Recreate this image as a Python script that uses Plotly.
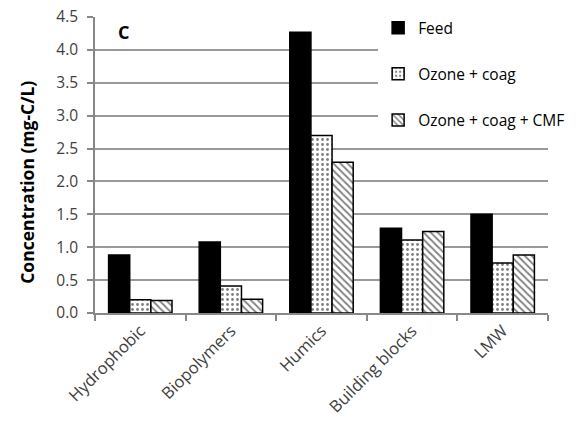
import plotly.graph_objects as go

categories = ["Hydrophobic", "Biopolymers", "Humics", "Building blocks", "LMW"]
feed = [0.88, 1.08, 4.27, 1.29, 1.50]
ozone_coag = [0.20, 0.41, 2.70, 1.11, 0.76]
ozone_coag_cmf = [0.19, 0.21, 2.29, 1.24, 0.88]
y_ticks = [0.0, 0.5, 1.0, 1.5, 2.0, 2.5, 3.0, 3.5, 4.0, 4.5]

FONT = "Open Sans, Liberation Sans, sans-serif"
outline = dict(color="black", width=1.5)

fig = go.Figure()
fig.add_trace(go.Bar(
    name="Feed", x=categories, y=feed, legendgroup="a",
    marker=dict(color="black", line=outline),
))
fig.add_trace(go.Bar(
    name="Ozone + coag", x=categories, y=ozone_coag, legendgroup="b",
    marker=dict(color="white", line=outline,
                pattern=dict(shape=".", fgcolor="black", bgcolor="white",
                             size=5, solidity=0.25)),
))
fig.add_trace(go.Bar(
    name="Ozone + coag + CMF", x=categories, y=ozone_coag_cmf, legendgroup="c",
    marker=dict(color="white", line=outline,
                pattern=dict(shape="\\", fgcolor="black", bgcolor="white",
                             size=5, solidity=0.35)),
))

# panel letter
fig.add_annotation(text="<b>C</b>", xref="paper", yref="paper", x=0.046, y=0.95,
                   xanchor="left", yanchor="middle", showarrow=False,
                   font=dict(size=18, color="black", family=FONT))

# y-axis title
fig.add_annotation(text="<b>Concentration (mg-C/L)</b>", xref="paper", yref="paper",
                   x=-0.150, y=0.44, xanchor="center", yanchor="middle",
                   textangle=-90, showarrow=False,
                   font=dict(size=17.5, color="black", family=FONT))

fig.update_layout(
    width=577, height=421,
    margin=dict(l=95, r=29, t=17, b=108, autoexpand=False),
    paper_bgcolor="white", plot_bgcolor="white",
    barmode="group", bargap=0.3, bargroupgap=0,
    font=dict(family=FONT, size=14, color="#404040"),
    legend=dict(x=0.625, y=1.02, xanchor="left", yanchor="top",
                bgcolor="white", tracegroupgap=23,
                font=dict(size=15.5, color="black", family=FONT),
                itemwidth=30),
    xaxis=dict(
        automargin=False,
        showline=True, linecolor="#888888", linewidth=1.5,
        ticks="outside", tickson="boundaries", ticklen=6, tickcolor="#888888",
        tickwidth=1.5, tickangle=-45,
        tickfont=dict(size=16.5, color="#404040"),
    ),
    yaxis=dict(
        automargin=False,
        range=[0, 4.5], tickvals=y_ticks, ticktext=[f"{v:.1f}" for v in y_ticks],
        showgrid=True, gridcolor="#999999", gridwidth=1.5,
        showline=True, linecolor="#888888", linewidth=1.5,
        ticks="outside", ticklen=6, tickcolor="#888888", tickwidth=1.5,
        ticklabelstandoff=6,
        zeroline=False,
        tickfont=dict(size=15.5, color="#404040"),
    ),
)

fig.write_html("out.html")
